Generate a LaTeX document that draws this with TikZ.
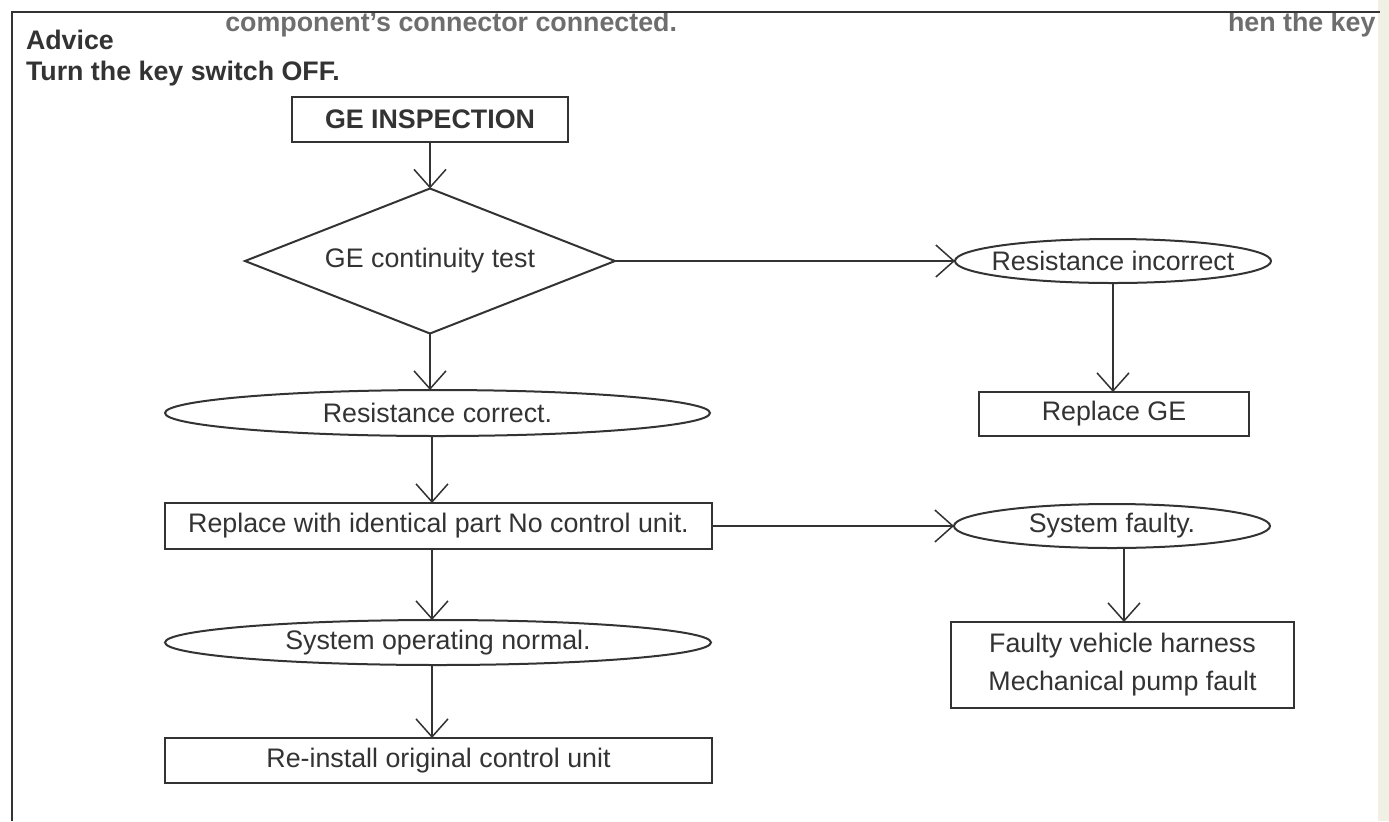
\documentclass[tikz,border=0pt]{standalone}
\usepackage{fontspec}
\setmainfont{Liberation Sans}
\usetikzlibrary{shapes.geometric,arrows.meta}
\definecolor{ink}{HTML}{333333}
\definecolor{faint}{HTML}{6E6E6E}
\definecolor{edge}{HTML}{F1F0E4}
\newcommand\fs{\fontsize{13.4pt}{19pt}\selectfont}
\newcommand\zw[1]{\makebox[0pt]{#1}}
\begin{document}
\begin{tikzpicture}[x=0.5pt,y=-0.5pt,
  every node/.style={font=\fs, text=ink, inner sep=0pt, outer sep=0pt},
  box/.style={draw=ink, line width=1pt, rectangle},
  oval/.style={draw=ink, line width=1pt, ellipse},
  decision/.style={draw=ink, line width=1pt, diamond},
  flow/.style={draw=ink, line width=0.75pt,
    -{Straight Barb[length=9pt,width=16pt,line width=0.75pt]}},
  frame/.style={draw=ink, line width=1.2pt}
]
\useasboundingbox (0,0) rectangle (1389,821);
\fill[white] (0,0) rectangle (1389,821);
\fill[edge] (1378,0) rectangle (1389,821);

% cut-off running text at the top of the scan
\node[anchor=base east, font=\fs\bfseries, text=faint] (topA) at (677,31)
  {component's connector connected.};
\node[anchor=base west, font=\fs\bfseries, text=faint] (topB) at (1228,31)
  {hen the key};

% frame
\draw[frame] (12,821) -- (12,12) -- (1380,12);

% advice
\node[anchor=base west, font=\fs\bfseries] (adv) at (26,49) {Advice};
\node[anchor=base west, font=\fs\bfseries] (turn) at (26,80) {Turn the key switch OFF.};

% left column
\node[box, minimum width=138pt, minimum height=22.5pt, font=\fs\bfseries] (gei) at (430,119.5) {GE INSPECTION};
\node[decision, minimum width=185pt, minimum height=72.5pt] (dia) at (430,261) {\zw{GE continuity test}};
\node[oval, minimum width=272.5pt, minimum height=23pt] (rc) at (437.5,413) {\zw{Resistance correct.}};
\node[box, minimum width=273.5pt, minimum height=23pt] (rep) at (438.5,526) {Replace with identical part No control unit.};
\node[oval, minimum width=273pt, minimum height=22.5pt] (son) at (438,642.5) {\zw{System operating normal.}};
\node[box, minimum width=273.5pt, minimum height=22.5pt] (rei) at (438.5,760.5) {Re-install original control unit};

% right column
\node[oval, minimum width=158pt, minimum height=22pt] (ri) at (1113,261) {\zw{Resistance incorrect}};
\node[box, minimum width=135pt, minimum height=22pt] (rge) at (1114,414) {Replace GE};
\node[oval, minimum width=158pt, minimum height=22pt] (sf) at (1112,526) {\zw{System faulty.}};
\node[box, minimum width=171.5pt, minimum height=43pt, align=center] (fvh) at (1122.5,665) {Faulty vehicle harness\\Mechanical pump fault};

% connectors
\coordinate (colL) at (432,0);
\coordinate (colR) at (1124,0);
\draw[flow] (gei.south) -- (dia.north);
\draw[flow] (dia.south) -- (dia.south |- rc.north);
\draw[flow] (colL |- rc.south) -- (colL |- rep.north);
\draw[flow] (colL |- rep.south) -- (colL |- son.north);
\draw[flow] (colL |- son.south) -- (colL |- rei.north);
\draw[flow] (dia.east) -- (ri.west);
\draw[flow] (ri.south) -- (ri.south |- rge.north);
\draw[flow] (rep.east) -- (rep.east -| sf.west);
\draw[flow] (colR |- sf.south) -- (colR |- fvh.north);
\end{tikzpicture}
\end{document}
